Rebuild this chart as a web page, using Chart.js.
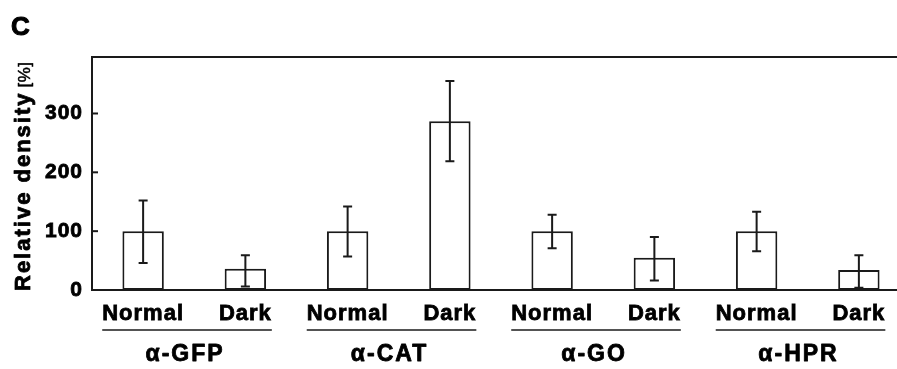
<!DOCTYPE html>
<html>
<head>
<meta charset="utf-8">
<script src="https://cdn.jsdelivr.net/npm/chart.js@4/dist/chart.umd.min.js"></script>
<style>
    html, body { margin: 0; padding: 0; background: #fff; overflow: hidden; }
    #wrap { position: relative; width: 930px; height: 369px; }
</style>
</head>
<body>
<div id="wrap"><canvas id="densityChart"></canvas></div>
<script>
// data
const categories = ['Normal', 'Dark', 'Normal', 'Dark', 'Normal', 'Dark', 'Normal', 'Dark'];
const groups = ['\u03b1-GFP', '\u03b1-CAT', '\u03b1-GO', '\u03b1-HPR'];
const density = [100, 36, 100, 287, 100, 55, 100, 34];
const errUpper = [152, 59, 142, 355, 128, 90, 133, 59];
const errLower = [46, 6, 57, 219, 71, 16, 66, 4];
const yTicks = [0, 100, 200, 300];

const FONT = "'Liberation Sans', Arial, Helvetica, sans-serif";
const INK = '#1a1a1a';

// draw text a bit heavier, like the scanned figure
function heavyText(ctx, txt, x, y, w) {
    ctx.lineWidth = w;
    ctx.strokeStyle = '#000';
    ctx.lineJoin = 'round';
    ctx.strokeText(txt, x, y);
    ctx.fillText(txt, x, y);
}

const decorPlugin = {
    id: 'decor',
    beforeDraw(chart) {
        chart.ctx.letterSpacing = '1px';
    },
    afterDatasetsDraw(chart) {
        const { ctx, scales: { x, y } } = chart;
        ctx.save();
        ctx.strokeStyle = INK;
        ctx.lineWidth = 2;
        density.forEach((v, i) => {
            const px = x.getPixelForValue(i);
            const top = y.getPixelForValue(errUpper[i]);
            const bot = y.getPixelForValue(errLower[i]);
            ctx.beginPath();
            ctx.moveTo(px, top); ctx.lineTo(px, bot);
            ctx.moveTo(px - 4.5, top); ctx.lineTo(px + 4.5, top);
            ctx.moveTo(px - 4.5, bot); ctx.lineTo(px + 4.5, bot);
            ctx.stroke();
        });
        ctx.restore();
    },
    afterDraw(chart) {
        const { ctx, chartArea, scales: { x, y } } = chart;
        ctx.save();
        ctx.strokeStyle = INK;
        ctx.lineWidth = 2;

        // top frame line
        ctx.beginPath();
        ctx.moveTo(chartArea.left - 1, chartArea.top);
        ctx.lineTo(chartArea.right, chartArea.top);
        ctx.stroke();

        // inward ticks on the y axis
        yTicks.forEach(v => {
            const py = y.getPixelForValue(v);
            ctx.beginPath();
            ctx.moveTo(chartArea.left, py);
            ctx.lineTo(chartArea.left + 6, py);
            ctx.stroke();
        });

        // group underlines + names
        ctx.fillStyle = '#000';
        ctx.textAlign = 'center';
        ctx.textBaseline = 'alphabetic';
        groups.forEach((g, k) => {
            const i1 = k * 2, i2 = k * 2 + 1;
            ctx.font = 'bold 22px ' + FONT;
            ctx.letterSpacing = '1px';
            const w1 = ctx.measureText(categories[i1]).width;
            const w2 = ctx.measureText(categories[i2]).width;
            const x1 = x.getPixelForValue(i1) - w1 / 2;
            const x2 = x.getPixelForValue(i2) + w2 / 2;
            ctx.strokeStyle = INK;
            ctx.lineWidth = 1.6;
            ctx.beginPath();
            ctx.moveTo(x1, 330);
            ctx.lineTo(x2, 330);
            ctx.stroke();
            ctx.font = 'bold 23px ' + FONT;
            ctx.letterSpacing = '2px';
            heavyText(ctx, g, (x1 + x2) / 2 - 2, 361, 0.8);
        });

        // panel letter
        ctx.textAlign = 'left';
        ctx.letterSpacing = '0px';
        ctx.font = 'bold 26px ' + FONT;
        heavyText(ctx, 'C', 11, 35, 1);

        // y axis title
        ctx.translate(30, 291);
        ctx.rotate(-Math.PI / 2);
        ctx.font = 'bold 22px ' + FONT;
        ctx.letterSpacing = '2px';
        heavyText(ctx, 'Relative density', 0, 0, 0.8);
        const tw = ctx.measureText('Relative density').width;
        ctx.font = '17px ' + FONT;
        ctx.letterSpacing = '0.5px';
        heavyText(ctx, '[%]', tw + 4, 0, 0.5);
        ctx.restore();
        chart.ctx.letterSpacing = '0px';
    }
};

new Chart(document.getElementById('densityChart').getContext('2d'), {
    type: 'bar',
    data: {
        labels: categories,
        datasets: [{
            data: density,
            backgroundColor: '#ffffff',
            borderColor: INK,
            borderWidth: 2,
            borderSkipped: false,
            categoryPercentage: 1,
            barPercentage: 0.405
        }]
    },
    options: {
        responsive: true,
        maintainAspectRatio: false,
        animation: false,
        events: [],
        layout: { padding: { top: 57, right: 20, left: 0, bottom: 0 } },
        plugins: {
            legend: { display: false },
            title: { display: false },
            tooltip: { enabled: false }
        },
        scales: {
            x: {
                grid: { display: false, drawTicks: false, tickLength: 0 },
                border: { display: true, color: INK, width: 2 },
                ticks: {
                    color: '#000',
                    font: { family: FONT, size: 22, weight: 'bold' },
                    textStrokeColor: '#000',
                    textStrokeWidth: 0.8,
                    padding: 11,
                    autoSkip: false,
                    maxRotation: 0,
                    minRotation: 0
                },
                afterFit(scale) { scale.height = 79; }
            },
            y: {
                min: 0,
                max: 396,
                grid: { display: false, drawTicks: false, tickLength: 0 },
                border: { display: true, color: INK, width: 2 },
                ticks: {
                    color: '#000',
                    font: { family: FONT, size: 21, weight: 'bold' },
                    textStrokeColor: '#000',
                    textStrokeWidth: 0.8,
                    padding: 9
                },
                afterBuildTicks(scale) {
                    scale.ticks = yTicks.map(v => ({ value: v }));
                },
                afterFit(scale) { scale.width = 92; }
            }
        }
    },
    plugins: [decorPlugin]
});
</script>
</body>
</html>
